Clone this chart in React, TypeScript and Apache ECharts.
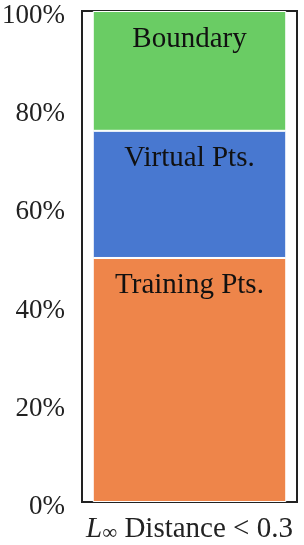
import React, { useEffect, useRef } from "react";
import * as echarts from "echarts";

const categories = ["L∞ Distance < 0.3"];
const seriesNames = ["Training Pts.", "Virtual Pts.", "Boundary"];
const trainingValues = [49.7];
const virtualValues = [25.9];
const boundaryValues = [24.4];
const yTicks = [0, 20, 40, 60, 80, 100];

const FONT = "Liberation Serif";

export default function App() {
  const ref = useRef<HTMLDivElement>(null);
  useEffect(() => {
    if (!ref.current) return;
    const chart = echarts.init(ref.current, undefined, { renderer: "svg" });
    const colors = ["#ee854a", "#4878d0", "#6acc64"];
    const data = [trainingValues, virtualValues, boundaryValues];
    chart.setOption({
      animation: false,
      textStyle: { fontFamily: FONT },
      grid: {
        left: 82,
        right: 7,
        top: 11,
        bottom: 43,
        show: true,
        borderColor: "#222",
        borderWidth: 2,
        backgroundColor: "transparent",
        outerBoundsMode: "none",
      },
      xAxis: {
        type: "category",
        data: categories,
        axisLine: { show: false },
        axisTick: { show: false },
        axisLabel: {
          margin: 10,
          formatter: () => "{i|L}{s|∞}{n| Distance < 0.3}",
          rich: {
            i: { fontFamily: FONT, fontStyle: "italic", fontSize: 29, color: "#222" },
            s: { fontFamily: FONT, fontSize: 21, color: "#222", verticalAlign: "bottom", padding: [9, 0, 0, 0] },
            n: { fontFamily: FONT, fontSize: 29, color: "#222" },
          },
        },
      },
      yAxis: {
        type: "value",
        min: yTicks[0],
        max: yTicks[yTicks.length - 1],
        interval: 20,
        axisLine: { show: false },
        axisTick: { show: false },
        splitLine: { show: false },
        axisLabel: {
          formatter: "{a|{value}%}",
          margin: 17,
          verticalAlign: "top",
          rich: {
            a: { fontFamily: FONT, fontSize: 27, color: "#222", lineHeight: 6 },
          },
        },
      },
      series: seriesNames.map((name, i) => ({
        name,
        type: "bar",
        stack: "total",
        barWidth: "90%",
        data: data[i],
        itemStyle: { color: colors[i], borderColor: "#fff", borderWidth: 1 },
        label: {
          show: true,
          position: "insideTop",
          distance: 11,
          formatter: name,
          fontFamily: FONT,
          fontSize: 29,
          color: "#111",
        },
      })),
    });
    return () => chart.dispose();
  }, []);
  return (
    <div
      ref={ref}
      style={{ width: 304, height: 545, position: "fixed", left: 0, top: 0 }}
    />
  );
}
